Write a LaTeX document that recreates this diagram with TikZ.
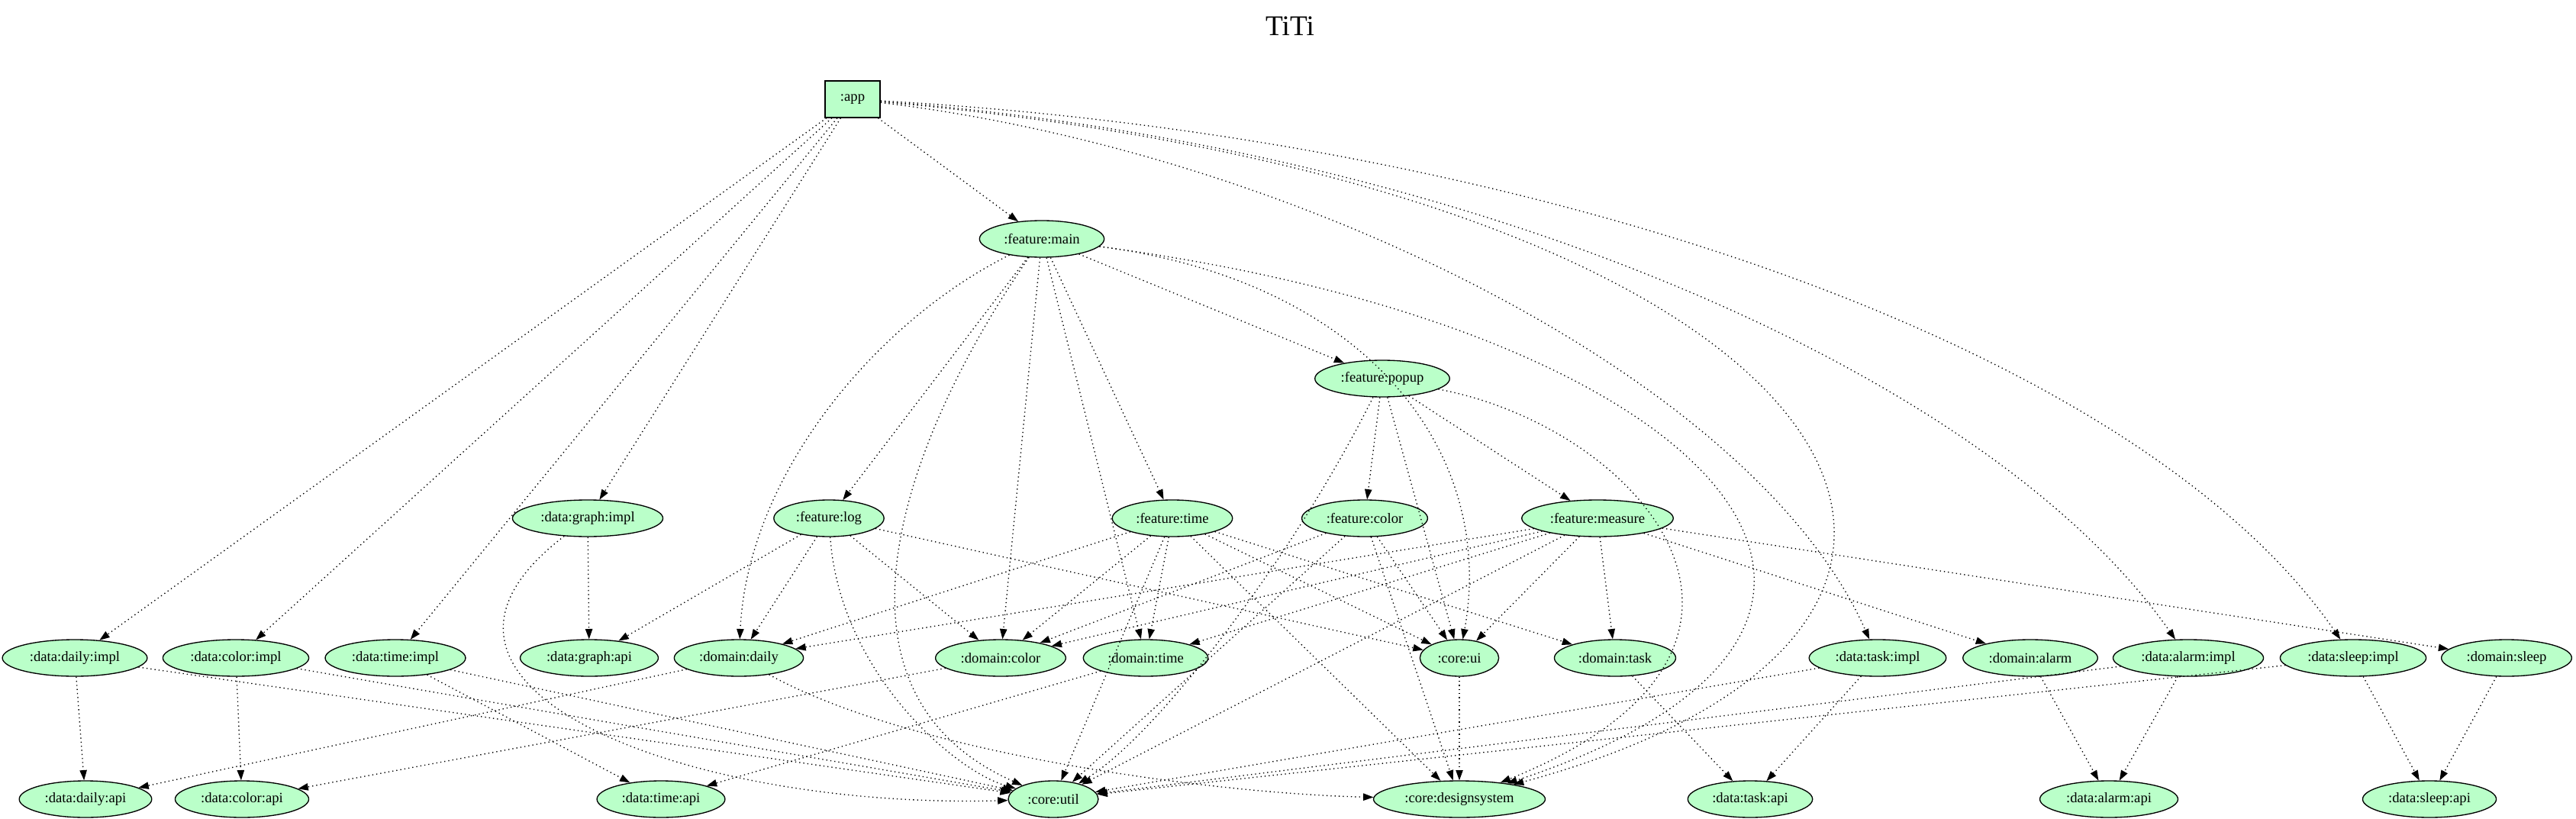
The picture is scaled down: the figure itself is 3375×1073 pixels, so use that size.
\documentclass[tikz,border=0pt]{standalone}
\usepackage{fontspec}
\setmainfont{Liberation Serif}
\usetikzlibrary{shapes.geometric,arrows.meta}
\definecolor{modfill}{HTML}{BAFFC9}
\begin{document}
\begin{tikzpicture}[
        x=0.75pt, y=-0.75pt,
        every node/.style={font=\fontsize{14}{16}\selectfont},
        module/.style={ellipse, draw, fill=modfill, line width=1pt, minimum height=36pt, inner xsep=6pt, inner ysep=2pt},
        appbox/.style={rectangle, draw, fill=modfill, line width=1pt, minimum width=54pt, minimum height=36pt},
        dep/.style={-{Triangle[length=10pt,width=7pt]}, line width=1pt, dash pattern=on 1pt off 3pt}
        ]
    \useasboundingbox (0,0) rectangle (3375,1073);
    \node[font=\fontsize{28}{32}\selectfont, anchor=base] (title) at (1690,47) {TiTi};

    \node[appbox] (app) at (1117,130) {:app};
    \node[module] (featmain) at (1365,313) {:feature:main};
    \node[module] (featpopup) at (1811,496) {:feature:popup};

    \node[module] (graphimpl) at (770,679) {:data:graph:impl};
    \node[module] (featlog) at (1086,679) {:feature:log};
    \node[module] (feattime) at (1536,679) {:feature:time};
    \node[module] (featcolor) at (1788,679) {:feature:color};
    \node[module] (featmeasure) at (2093,679) {:feature:measure};

    \node[module] (dailyimpl) at (98,862) {:data:daily:impl};
    \node[module] (colorimpl) at (309,862) {:data:color:impl};
    \node[module] (timeimpl) at (518,862) {:data:time:impl};
    \node[module] (graphapi) at (772,862) {:data:graph:api};
    \node[module] (domdaily) at (968,862) {:domain:daily};
    \node[module] (domcolor) at (1311,862) {:domain:color};
    \node[module] (domtime) at (1501,862) {:domain:time};
    \node[module] (coreui) at (1912,862) {:core:ui};
    \node[module] (domtask) at (2116,862) {:domain:task};
    \node[module] (taskimpl) at (2460,862) {:data:task:impl};
    \node[module] (domalarm) at (2660,862) {:domain:alarm};
    \node[module] (alarmimpl) at (2867,862) {:data:alarm:impl};
    \node[module] (sleepimpl) at (3083,862) {:data:sleep:impl};
    \node[module] (domsleep) at (3284,862) {:domain:sleep};

    \node[module] (dailyapi) at (112,1047) {:data:daily:api};
    \node[module] (colorapi) at (317,1047) {:data:color:api};
    \node[module] (timeapi) at (866,1047) {:data:time:api};
    \node[module] (coreutil) at (1380,1047) {:core:util};
    \node[module] (designsystem) at (1912,1047) {:core:designsystem};
    \node[module] (taskapi) at (2293,1047) {:data:task:api};
    \node[module] (alarmapi) at (2763,1047) {:data:alarm:api};
    \node[module] (sleepapi) at (3183,1047) {:data:sleep:api};

    \draw[dep] (app) -- (featmain);
    \draw[dep] (app) -- (dailyimpl);
    \draw[dep] (app) -- (colorimpl);
    \draw[dep] (app) -- (timeimpl);
    \draw[dep] (app) -- (graphimpl);
    \draw[dep] (app) .. controls (1700,200) and (2300,500) .. (taskimpl);
    \draw[dep] (app) .. controls (1900,190) and (2600,480) .. (alarmimpl);
    \draw[dep] (app) .. controls (2000,180) and (2800,450) .. (sleepimpl);
    \draw[dep] (app) .. controls (2450,250) and (2750,820) .. (designsystem);

    \draw[dep] (featmain) -- (featlog);
    \draw[dep] (featmain) -- (feattime);
    \draw[dep] (featmain) -- (featpopup);
    \draw[dep] (featmain) -- (domcolor);
    \draw[dep] (featmain) -- (domtime);
    \draw[dep] (featmain) .. controls (1150,420) and (980,620) .. (domdaily);
    \draw[dep] (featmain) .. controls (1200,550) and (1050,900) .. (coreutil);
    \draw[dep] (featmain) .. controls (1800,370) and (1960,600) .. (coreui);
    \draw[dep] (featmain) .. controls (2250,430) and (2600,820) .. (designsystem);

    \draw[dep] (featpopup) -- (featcolor);
    \draw[dep] (featpopup) -- (featmeasure);
    \draw[dep] (featpopup) -- (coreui);
    \draw[dep] (featpopup) .. controls (1700,720) and (1520,960) .. (coreutil);
    \draw[dep] (featpopup) .. controls (2150,560) and (2400,850) .. (designsystem);

    \draw[dep] (featlog) -- (graphapi);
    \draw[dep] (featlog) -- (domdaily);
    \draw[dep] (featlog) -- (domcolor);
    \draw[dep] (featlog) -- (coreui);
    \draw[dep] (featlog) .. controls (1100,880) and (1250,1010) .. (coreutil);

    \draw[dep] (feattime) -- (domdaily);
    \draw[dep] (feattime) -- (domcolor);
    \draw[dep] (feattime) -- (domtime);
    \draw[dep] (feattime) -- (coreui);
    \draw[dep] (feattime) -- (domtask);
    \draw[dep] (feattime) -- (coreutil);
    \draw[dep] (feattime) -- (designsystem);

    \draw[dep] (featcolor) -- (domcolor);
    \draw[dep] (featcolor) -- (coreui);
    \draw[dep] (featcolor) -- (coreutil);
    \draw[dep] (featcolor) -- (designsystem);

    \draw[dep] (featmeasure) -- (domdaily);
    \draw[dep] (featmeasure) -- (domcolor);
    \draw[dep] (featmeasure) -- (domtime);
    \draw[dep] (featmeasure) -- (coreui);
    \draw[dep] (featmeasure) -- (domtask);
    \draw[dep] (featmeasure) -- (domalarm);
    \draw[dep] (featmeasure) -- (domsleep);
    \draw[dep] (featmeasure) -- (coreutil);

    \draw[dep] (graphimpl) -- (graphapi);
    \draw[dep] (graphimpl) .. controls (480,900) and (900,1060) .. (coreutil);
    \draw[dep] (dailyimpl) -- (dailyapi);
    \draw[dep] (dailyimpl) -- (coreutil);
    \draw[dep] (colorimpl) -- (colorapi);
    \draw[dep] (colorimpl) -- (coreutil);
    \draw[dep] (timeimpl) -- (timeapi);
    \draw[dep] (timeimpl) -- (coreutil);

    \draw[dep] (domdaily) -- (dailyapi);
    \draw[dep] (domdaily) .. controls (1200,990) and (1600,1040) .. (designsystem);
    \draw[dep] (domcolor) -- (colorapi);
    \draw[dep] (domtime) -- (timeapi);
    \draw[dep] (coreui) -- (designsystem);
    \draw[dep] (domtask) -- (taskapi);
    \draw[dep] (domalarm) -- (alarmapi);
    \draw[dep] (domsleep) -- (sleepapi);

    \draw[dep] (taskimpl) -- (taskapi);
    \draw[dep] (taskimpl) -- (coreutil);
    \draw[dep] (alarmimpl) -- (alarmapi);
    \draw[dep] (alarmimpl) -- (coreutil);
    \draw[dep] (sleepimpl) -- (sleepapi);
    \draw[dep] (sleepimpl) -- (coreutil);
\end{tikzpicture}
\end{document}
